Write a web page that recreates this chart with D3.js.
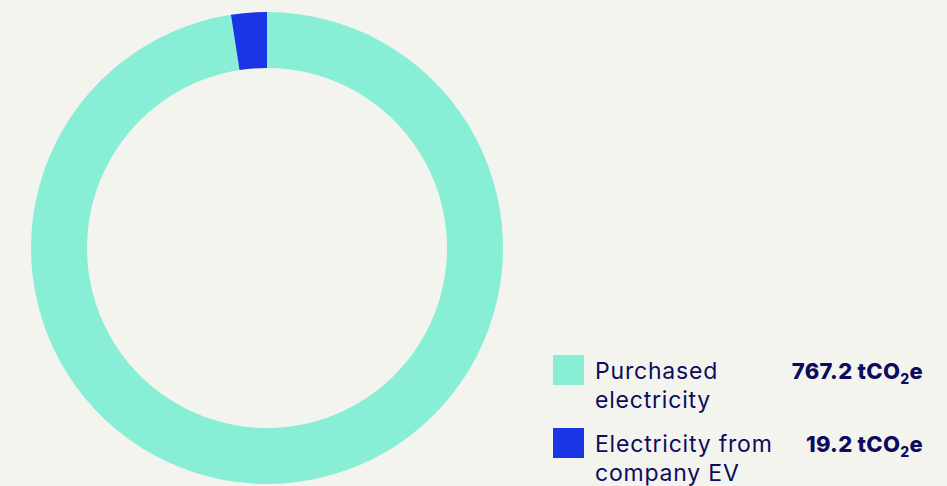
<!DOCTYPE html>
<html>
<head>
<meta charset="utf-8">
<script src="https://cdn.jsdelivr.net/npm/d3@7"></script>
<style>
  html, body { margin: 0; padding: 0; background: #f4f4ef; }
  svg { display: block; }
  text { font-family: Inter, "Noto Sans", sans-serif; fill: #0d0b5e; }
</style>
</head>
<body>
<svg id="chart" width="947" height="486"></svg>
<script>
// Scope 2 emissions by source (tCO2e)
const categories = ["Purchased\nelectricity", "Electricity from\ncompany EV"];
const values = [767.2, 19.2];
const valueLabels = ["767.2", "19.2"];
const colors = ["#88eed6", "#1a35e5"];

const svg = d3.select("#chart");

const cx = 267, cy = 248, outerR = 236, innerR = 180;

const pie = d3.pie().sort(null).value(d => d);
const arc = d3.arc().innerRadius(innerR).outerRadius(outerR);

const g = svg.append("g").attr("transform", `translate(${cx},${cy})`);
g.selectAll("path")
  .data(pie(values))
  .join("path")
  .attr("d", arc)
  .attr("fill", (d, i) => colors[i]);

// Legend
const legend = svg.append("g");
const rowY = [355, 428];
categories.forEach((cat, i) => {
  const y = rowY[i];
  legend.append("rect")
    .attr("x", 553).attr("y", y)
    .attr("width", 31).attr("height", 30)
    .attr("fill", colors[i]);
  const lines = cat.split("\n");
  lines.forEach((ln, j) => {
    legend.append("text")
      .attr("x", 595).attr("y", y + 24 + j * 29)
      .attr("font-size", 23)
      .attr("letter-spacing", 0.8)
      .text(ln);
  });
  const t = legend.append("text")
    .attr("x", 923).attr("y", y + 24)
    .attr("text-anchor", "end")
    .attr("font-size", 22)
    .attr("letter-spacing", 0.3)
    .attr("font-weight", 800);
  t.append("tspan").text(valueLabels[i] + " tCO");
  t.append("tspan").attr("font-size", 14).attr("dy", 5).text("2");
  t.append("tspan").attr("dy", -5).text("e");
});
</script>
</body>
</html>
